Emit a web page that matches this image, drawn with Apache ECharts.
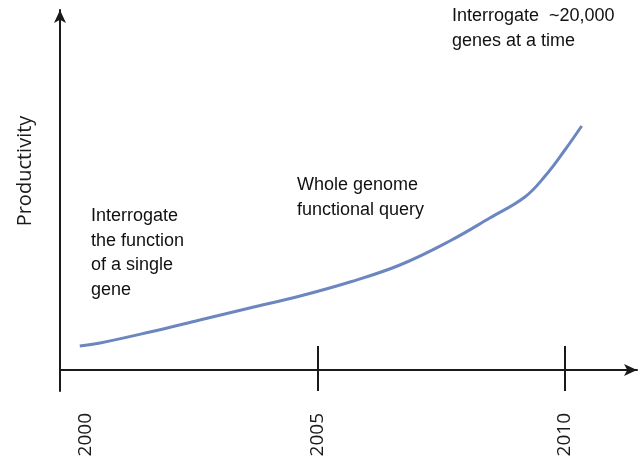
<!DOCTYPE html>
<html>
<head>
<meta charset="utf-8">
<script src="https://cdn.jsdelivr.net/npm/echarts@6/dist/echarts.min.js"></script>
<style>
    html, body { margin: 0; padding: 0; background: #fff; }
    #chart { width: 641px; height: 460px; }
</style>
</head>
<body>
<div id="chart"></div>
<script>
// curve (year, relative productivity)
var curveYears = [2000.18, 2000.59, 2001.6, 2002.61, 2003.62, 2004.64, 2005.65, 2006.66, 2007.67, 2008.48, 2009.19, 2009.6, 2010.0, 2010.34];
var curveValues = [24, 27, 38, 50, 62, 74, 88, 105, 129, 152, 173, 194, 220, 244];
var tickYears = [2005, 2010];
var labelYears = [2000.3, 2005, 2010]; // first label sits a bit right of 2000 in the source
var yAxisName = 'Productivity';
var notes = [
    {text: 'Interrogate\nthe function\nof a single\ngene', x: 91, y: 204},
    {text: 'Whole genome\nfunctional query', x: 297, y: 173},
    {text: 'Interrogate  ~20,000\ngenes at a time', x: 452, y: 4}
];

var chart = echarts.init(document.getElementById('chart'));
var ink = '#1a1a1a';

var option = {
    animation: false,
    grid: {left: 60, right: 4, top: 10, bottom: 69, outerBoundsMode: 'none', containLabel: false},
    xAxis: [
        {
            // main axis: line + arrow + year labels, sits on y = 0
            type: 'value',
            min: 1999.78,
            max: 2011.46,
            position: 'bottom',
            splitLine: {show: false},
            axisLine: {onZero: true, symbol: ['none', 'arrow'], symbolSize: [9, 13], lineStyle: {color: ink, width: 2}},
            axisTick: {show: false},
            axisLabel: {
                customValues: labelYears,
                rotate: 90,
                margin: 22,
                color: ink,
                fontFamily: 'Open Sans',
                fontSize: 19,
                formatter: function (v) { return String(Math.round(v)); }
            }
        },
        {
            // helper axis at grid bottom, only for the crossing tick marks
            type: 'value',
            min: 1999.78,
            max: 2011.46,
            position: 'bottom',
            splitLine: {show: false},
            axisLine: {show: false, onZero: false},
            axisTick: {show: true, inside: true, length: 45, customValues: tickYears, lineStyle: {color: ink, width: 2}},
            axisLabel: {show: false}
        }
    ],
    yAxis: {
        type: 'value',
        min: -21,
        max: 360,
        splitLine: {show: false},
        axisTick: {show: false},
        axisLabel: {show: false},
        axisLine: {show: true, onZero: false, symbol: ['none', 'arrow'], symbolSize: [9, 13], lineStyle: {color: ink, width: 2}}
    },
    graphic: [
        {
            type: 'text',
            x: 25, y: 171,
            rotation: Math.PI / 2,
            style: {text: yAxisName, fill: ink, font: '20px "Open Sans"', align: 'center', verticalAlign: 'middle'}
        }
    ].concat(notes.map(function (n) {
        return {
            type: 'text',
            x: n.x, y: n.y,
            style: {text: n.text, fill: '#111', font: '18px "Liberation Sans", Arial', lineHeight: 24.5}
        };
    })),
    series: [{
        type: 'line',
        xAxisIndex: 0,
        data: curveYears.map(function (y, i) { return [y, curveValues[i]]; }),
        smooth: 0.4,
        showSymbol: false,
        lineStyle: {color: '#6C86C0', width: 3}
    }]
};
chart.setOption(option);
</script>
</body>
</html>
